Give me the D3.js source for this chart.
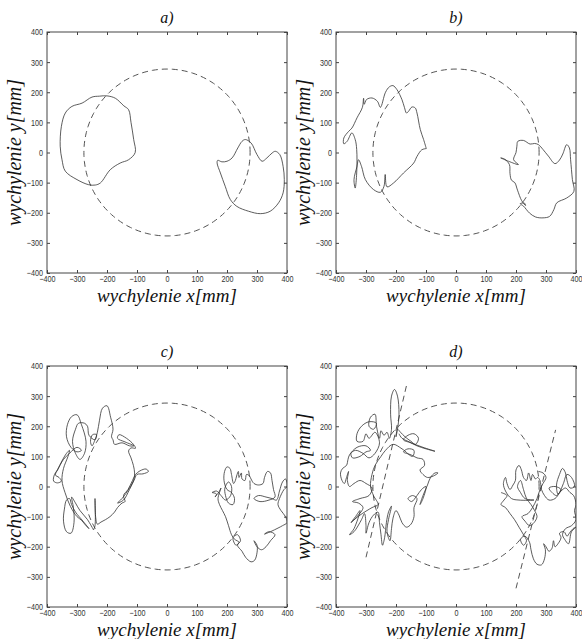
<!DOCTYPE html>
<html>
<head>
<meta charset="utf-8">
<script src="https://cdn.jsdelivr.net/npm/d3@7"></script>
<style>
  body { margin: 0; background: #fff; }
  svg { display: block; }
  .tick text { font-family: "Liberation Sans", Arial, sans-serif; font-size: 9px; fill: #333; }
  .tick line { stroke: #444; }
  .lab { font-family: "Liberation Serif", "Times New Roman", serif; font-style: italic; fill: #111; }
</style>
</head>
<body>
<div id="vis"></div>
<script>
// panel titles and axis texts
var titles = ["a)", "b)", "c)", "d)"];
var xLabel = "wychylenie x[mm]";
var yLabel = "wychylenie y[mm]";
var ticks = [-400, -300, -200, -100, 0, 100, 200, 300, 400];
var circleR = 277;

// a) - smooth closed paths
var aLeft = [[-106,0],[-111,43],[-120,100],[-128,142],[-144,155],[-172,180],[-200,188],[-225,187],[-250,184],[-283,164],[-317,153],[-339,131],[-352,87],[-356,21],[-350,-24],[-339,-62],[-300,-90],[-261,-107],[-239,-108],[-222,-101],[-189,-57],[-156,-35],[-128,-24]];
var aRight = [[169,-26],[183,-31],[200,-29],[217,-18],[236,15],[250,37],[261,43],[280,32],[300,-7],[317,-29],[333,-18],[350,-2],[361,4],[376,-7],[387,-46],[391,-90],[387,-134],[372,-167],[344,-195],[311,-203],[272,-195],[233,-179],[211,-156],[194,-112],[178,-68],[167,-35]];

// b) - jagged paths
var bLeft = [[-99,13],[-108,43],[-119,76],[-130,131],[-136,148],[-147,151],[-158,137],[-165,131],[-172,150],[-180,175],[-197,209],[-210,222],[-222,218],[-235,200],[-252,150],[-262,170],[-280,181],[-298,176],[-306,160],[-308,180],[-312,150],[-330,115],[-347,81],[-358,70],[-374,48],[-374,29],[-363,37],[-347,65],[-336,43],[-331,10],[-331,-68],[-336,-118],[-340,-90],[-330,-46],[-325,-24],[-315,-46],[-302,-90],[-275,-123],[-252,-132],[-240,-112],[-236,-73],[-230,-114],[-208,-101],[-175,-68],[-141,-35],[-130,-13],[-114,9],[-99,13]];
var bRight = [[149,-18],[175,-29],[208,-40],[192,-24],[200,0],[203,21],[206,37],[225,40],[247,28],[262,30],[275,26],[290,10],[308,-12],[330,-37],[345,-25],[356,-5],[369,26],[378,15],[382,-24],[388,-90],[393,-129],[369,-151],[336,-167],[326,-190],[312,-212],[290,-217],[265,-214],[245,-201],[225,-178],[214,-170],[228,-168],[232,-176],[219,-160],[205,-125],[196,-100],[185,-92],[180,-70],[178,-40],[162,-22],[149,-18]];

// c) - loops
var cLeft = [[-245,-144],[-240,-130],[-240,-40],[-238,-100],[-232,-125],[-220,-118],[-205,-110],[-190,-100],[-175,-85],[-165,-70],[-150,-55],[-140,-50],[-145,-30],[-130,-10],[-115,20],[-105,40],[-90,52],[-70,58],[-62,50],[-80,42],[-100,40],[-110,20],[-125,-10],[-145,-45],[-165,-55],[-150,-40],[-125,-5],[-110,25],[-108,45],[-112,70],[-120,95],[-128,118],[-120,128],[-105,127],[-112,140],[-135,160],[-160,172],[-165,160],[-140,148],[-110,135],[-125,135],[-150,145],[-175,140],[-180,155],[-185,165],[-180,190],[-188,230],[-200,268],[-215,260],[-225,220],[-232,180],[-240,155],[-250,135],[-255,150],[-248,172],[-235,172],[-240,155],[-260,170],[-265,200],[-275,210],[-295,210],[-305,190],[-315,150],[-305,110],[-290,90],[-275,110],[-270,150],[-285,205],[-300,238],[-318,232],[-332,205],[-335,165],[-320,130],[-300,115],[-285,120],[-300,130],[-325,110],[-345,90],[-365,55],[-375,40],[-378,18],[-365,12],[-352,18],[-360,30],[-372,38],[-365,55],[-350,85],[-335,110],[-325,120],[-330,100],[-345,60],[-350,20],[-340,-20],[-322,-66],[-300,-100],[-285,-112],[-270,-130],[-260,-140],[-280,-115],[-305,-85],[-318,-60],[-325,-40],[-335,-45],[-342,-75],[-345,-115],[-335,-150],[-320,-155],[-310,-120],[-312,-70],[-318,-35],[-305,-55],[-290,-80],[-265,-110],[-245,-144]];
var cRight = [[150,-20],[165,-25],[160,-35],[175,-15],[180,-5],[170,-40],[175,-60],[185,-80],[195,-100],[205,-130],[215,-160],[225,-175],[240,-185],[230,-195],[220,-170],[235,-160],[245,-180],[235,-195],[250,-215],[262,-235],[280,-250],[292,-245],[300,-220],[300,-195],[290,-180],[300,-200],[315,-210],[330,-200],[345,-180],[360,-160],[340,-150],[325,-158],[345,-150],[370,-138],[385,-130],[400,-120],[395,-100],[380,-80],[370,-60],[375,-40],[390,-10],[400,0],[395,25],[385,15],[375,-15],[365,-45],[350,-40],[330,-35],[305,-30],[290,-40],[310,-50],[340,-45],[360,-35],[355,-10],[350,20],[345,45],[335,50],[325,30],[320,10],[305,5],[290,10],[280,25],[275,35],[265,40],[260,20],[250,25],[248,45],[240,30],[238,50],[232,35],[228,20],[222,10],[215,40],[210,60],[200,65],[192,50],[190,20],[200,-10],[215,-20],[225,-40],[220,-60],[205,-55],[195,-30],[193,-5],[205,15],[215,0],[212,-30],[195,-45],[180,-30],[165,-15],[150,-20]];

// d) - dense scribbles
var dLeft = [[-190,175],[-180,160],[-160,150],[-130,135],[-100,125],[-70,117],[-110,130],[-150,145],[-175,155],[-160,170],[-140,175],[-125,160],[-135,140],[-150,150],[-170,165],[-185,180],[-195,190],[-200,165],[-195,190],[-190,240],[-195,300],[-205,322],[-215,300],[-218,240],[-215,190],[-222,160],[-230,180],[-240,170],[-250,185],[-255,160],[-265,200],[-270,240],[-285,230],[-290,200],[-275,190],[-265,210],[-290,215],[-315,200],[-330,175],[-330,150],[-310,150],[-300,175],[-290,160],[-270,180],[-255,145],[-270,110],[-290,95],[-310,110],[-335,120],[-350,110],[-345,95],[-320,100],[-300,115],[-285,120],[-300,135],[-330,130],[-355,105],[-360,90],[-365,70],[-378,60],[-385,45],[-380,20],[-372,10],[-365,30],[-358,50],[-362,20],[-355,0],[-340,10],[-320,20],[-300,10],[-280,-5],[-290,-30],[-320,-40],[-345,-50],[-325,-55],[-310,-70],[-330,-100],[-350,-120],[-335,-100],[-320,-80],[-340,-140],[-355,-160],[-340,-150],[-315,-110],[-305,-90],[-300,-130],[-300,-155],[-290,-120],[-275,-95],[-260,-85],[-255,-120],[-250,-160],[-245,-195],[-238,-170],[-232,-120],[-225,-85],[-215,-65],[-225,-110],[-230,-150],[-220,-180],[-215,-140],[-210,-105],[-200,-80],[-190,-95],[-180,-120],[-165,-135],[-150,-125],[-140,-100],[-140,-70],[-130,-40],[-145,-30],[-160,-40],[-148,-50],[-130,-30],[-115,-10],[-100,0],[-110,-40],[-120,-60],[-110,-30],[-95,5],[-85,30],[-70,45],[-60,45],[-75,35],[-95,30],[-110,40],[-120,55],[-105,70],[-110,90],[-130,95],[-150,105],[-175,115],[-160,125],[-140,120],[-145,100],[-180,125],[-210,140],[-235,120],[-250,100],[-270,70],[-280,40],[-285,0],[-275,-30],[-260,-60],[-280,-70],[-320,-95],[-345,-115]];
var dRight = [[150,-20],[170,-30],[160,-45],[150,-60],[165,-70],[180,-90],[195,-110],[210,-135],[225,-160],[235,-180],[225,-195],[215,-175],[230,-165],[245,-185],[250,-210],[258,-240],[270,-258],[285,-260],[295,-240],[298,-210],[292,-190],[300,-200],[310,-215],[320,-205],[325,-180],[330,-200],[340,-190],[350,-170],[345,-155],[360,-150],[370,-165],[378,-155],[390,-140],[400,-135],[385,-150],[375,-190],[362,-175],[355,-160],[365,-140],[385,-130],[400,-110],[395,-80],[400,-60],[392,-30],[380,-20],[365,-5],[350,-15],[335,-30],[320,-20],[310,-5],[330,0],[350,-10],[340,-25],[335,5],[345,40],[355,60],[365,45],[370,20],[380,-5],[395,0],[385,30],[370,40],[358,10],[345,-20],[330,-40],[310,-45],[295,-30],[285,-10],[280,20],[272,30],[265,25],[255,40],[250,20],[242,45],[235,20],[225,30],[218,55],[210,70],[200,55],[198,20],[190,5],[180,-10],[170,10],[165,30],[158,10],[165,-15],[185,-40],[210,-45],[260,-45],[230,-40],[215,-20],[205,0],[215,20],[225,-10],[235,-40],[250,-60],[262,-80],[270,-100],[260,-120],[245,-130],[230,-115],[220,-100],[240,-90],[255,-70],[270,-40],[280,-10],[290,10],[300,30],[290,45],[275,50]];
var dLines = [[[-300,-235],[-165,335]], [[200,-338],[332,188]]];

var panels = [
    { left: 47, top: 32, paths: [aLeft, aRight], closed: true, lines: [] },
    { left: 336, top: 32, paths: [bLeft, bRight], closed: false, lines: [] },
    { left: 47, top: 366, paths: [cLeft, cRight], closed: false, lines: [] },
    { left: 336, top: 366, paths: [dLeft, dRight], closed: false, lines: dLines }
];
var width = 240, height = 241;

var svg = d3.select("#vis").append("svg")
    .attr("width", 582)
    .attr("height", 639);

// squeeze tick labels like the narrow matlab font
function narrow(a) {
    a.select(".domain").remove();
    a.selectAll(".tick text").each(function () {
        var t = d3.select(this);
        var tx = +t.attr("x") || 0;
        t.attr("transform", "translate(" + tx * 0.2 + ",0) scale(0.8,1)");
    });
}

panels.forEach(function (p, i) {
    var x = d3.scaleLinear().domain([-400, 400]).range([0, width]);
    var y = d3.scaleLinear().domain([-400, 400]).range([height, 0]);

    var g = svg.append("g")
        .attr("transform", "translate(" + p.left + "," + p.top + ")");

    g.append("clipPath").attr("id", "clip" + i)
        .append("rect").attr("width", width).attr("height", height);

    // axes, ticks inside like matlab
    g.append("g")
        .attr("transform", "translate(0," + height + ")")
        .call(d3.axisBottom(x).tickValues(ticks).tickSize(-3).tickPadding(3))
        .call(narrow);
    g.append("g")
        .call(d3.axisTop(x).tickValues(ticks).tickSize(-3).tickFormat(""))
        .call(narrow);
    g.append("g")
        .call(d3.axisLeft(y).tickValues(ticks).tickSize(-3).tickPadding(4))
        .call(narrow);
    g.append("g")
        .attr("transform", "translate(" + width + ",0)")
        .call(d3.axisRight(y).tickValues(ticks).tickSize(-3).tickFormat(""))
        .call(narrow);

    g.append("rect")
        .attr("width", width)
        .attr("height", height)
        .attr("fill", "none")
        .attr("stroke", "#444")
        .attr("stroke-width", 1);

    var plot = g.append("g").attr("clip-path", "url(#clip" + i + ")");

    // dashed circle
    var circ = d3.range(0, 361, 2).map(function (t) {
        var a = t * Math.PI / 180;
        return [circleR * Math.cos(a), circleR * Math.sin(a)];
    });
    var line = d3.line().x(function (d) { return x(d[0]); }).y(function (d) { return y(d[1]); });
    plot.append("path")
        .attr("d", line(circ))
        .attr("fill", "none")
        .attr("stroke", "#555")
        .attr("stroke-dasharray", "6,4");

    p.lines.forEach(function (l) {
        plot.append("path")
            .attr("d", line(l))
            .attr("fill", "none")
            .attr("stroke", "#555")
            .attr("stroke-dasharray", "6,4");
    });

    var curve = p.closed ? d3.curveCatmullRomClosed : d3.curveCatmullRom;
    var trace = d3.line().curve(curve.alpha(0.5))
        .x(function (d) { return x(d[0]); })
        .y(function (d) { return y(d[1]); });
    p.paths.forEach(function (pts) {
        plot.append("path")
            .attr("d", trace(pts))
            .attr("fill", "none")
            .attr("stroke", "#333")
            .attr("stroke-width", 0.8);
    });

    g.append("text").attr("class", "lab")
        .attr("x", width / 2).attr("y", -9)
        .attr("text-anchor", "middle")
        .style("font-size", "16px")
        .text(titles[i]);

    g.append("text").attr("class", "lab")
        .attr("x", width / 2).attr("y", height + 29)
        .attr("text-anchor", "middle")
        .style("font-size", "19px")
        .text(xLabel);

    g.append("text").attr("class", "lab")
        .attr("transform", "translate(-26," + height / 2 + ") rotate(-90)")
        .attr("text-anchor", "middle")
        .style("font-size", "20px")
        .text(yLabel);
});
</script>
</body>
</html>
